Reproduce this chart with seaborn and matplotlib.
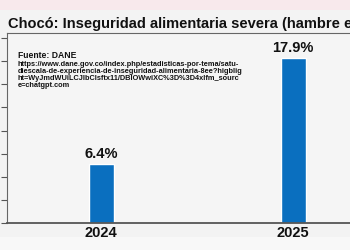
import seaborn as sns
import matplotlib.pyplot as plt
import pandas as pd
from matplotlib.patches import Rectangle

years = ["2024", "2025"]
values = [6.4, 17.9]
labels = ["6.4%", "17.9%"]
title = "Chocó: Inseguridad alimentaria severa (hambre e"
source_head = "Fuente: DANE"
source_url = ("https://www.dane.gov.co/index.php/estadisticas-por-tema/satu-\n"
              "diescala-de-experiencia-de-inseguridad-alimentaria-8ee?higblig\n"
              "ht=WyJmdWUiLCJlbClsftx11/DBlOWwiXC%3D%3D4xlfm_sourc\n"
              "e=chatgpt.com")

sns.set_style("white")
plt.rcParams['font.family'] = ['Liberation Sans', 'DejaVu Sans']
narrow = ['Liberation Sans Narrow', 'Liberation Sans', 'DejaVu Sans']

df = pd.DataFrame({"year": years, "value": values})

fig = plt.figure(figsize=(3.5, 2.5), dpi=100, facecolor="#f3f3f3")
# pink band on top, lighter band at the bottom
fig.patches.append(Rectangle((0, 0.962), 1, 0.04, transform=fig.transFigure,
                             facecolor="#f8e9ec", edgecolor="none", zorder=0))
fig.patches.append(Rectangle((0, 0), 1, 0.052, transform=fig.transFigure,
                             facecolor="#f8f8f8", edgecolor="none", zorder=0))

ax = fig.add_axes([0.02, 0.108, 1.097, 0.76])
ax.set_facecolor("#f5f5f5")
sns.barplot(data=df, x="year", y="value", color="#0a6fbf", width=0.13,
            saturation=1, ax=ax)
ax.bar_label(ax.containers[0], labels=labels, padding=2,
             fontsize=10.5, fontweight="bold", color="#111111")

ax.set_xlim(-0.49, 1.51)
ax.set_ylim(0, 20.56)
ax.set_yticks([i * 2.5 for i in range(9)])
ax.set_yticklabels([])
ax.tick_params(axis="y", direction="out", length=4, width=0.8, color="#555555", left=True)
ax.tick_params(axis="x", length=0, labelsize=10.5, pad=2)
for t in ax.get_xticklabels():
    t.set_fontweight("bold")
    t.set_color("#111111")
ax.set_xlabel("")
ax.set_ylabel("")

for s in ["left", "top"]:
    ax.spines[s].set_color("#666666")
    ax.spines[s].set_linewidth(0.8)
ax.spines["bottom"].set_color("#555555")
ax.spines["bottom"].set_linewidth(1.3)
ax.spines["right"].set_visible(False)

fig.text(0.022, 0.905, title, fontsize=10.5, fontweight="bold",
         color="#111111", va="center", ha="left")
fig.text(0.05, 0.78, source_head, fontsize=6.2, fontweight="bold",
         color="#111111", va="center", ha="left", family=narrow)
fig.text(0.05, 0.755, source_url, fontsize=5.3, fontweight="bold",
         color="#111111", va="top", ha="left", linespacing=0.98, family=narrow)

fig.savefig("out.png", dpi=100, facecolor=fig.get_facecolor())
